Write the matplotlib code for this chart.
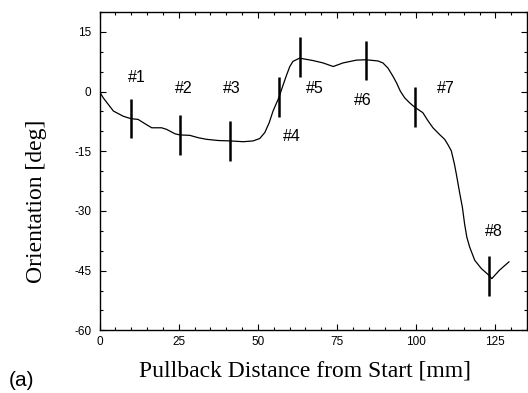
import matplotlib
matplotlib.use("Agg")
import matplotlib.pyplot as plt
from matplotlib.ticker import MultipleLocator

plt.rcParams["axes.unicode_minus"] = False

# orientation curve
dist = [0, 1.2, 4.4, 7.5, 9.9, 12.2, 14.4, 16.5, 19.6, 21.2, 23.8, 25.4, 28.5, 31.2,
        33.8, 37.5, 41.2, 45.4, 48.5, 50.6, 52.2, 53.6, 54.8, 56.6, 58.0, 59.1, 60.1,
        61.1, 63.2, 67.4, 70.6, 73.8, 76.9, 81.1, 84.1, 87.9, 89.5, 91.1, 92.7, 93.8,
        95.0, 96.4, 97.9, 99.5, 102.1, 103.7, 105.3, 107.4, 109.0, 110.0, 111.1, 112.1,
        112.7, 113.7, 114.6, 115.3, 116.0, 116.9, 118.5, 120.6, 122.6, 123.9, 126.3, 129.3]
orient = [0, -1.6, -4.9, -6.2, -6.8, -7.0, -8.1, -9.1, -9.1, -9.5, -10.6, -10.9, -11.0, -11.6,
          -12.0, -12.3, -12.4, -12.6, -12.4, -11.8, -10.3, -7.8, -4.9, -1.6, 1.7, 4.2, 6.3,
          7.6, 8.4, 7.8, 7.2, 6.3, 7.2, 7.9, 8.0, 7.7, 7.2, 5.9, 3.8, 2.2,
          0.1, -1.6, -2.8, -3.9, -5.3, -7.3, -9.1, -10.8, -12.0, -13.3, -14.9, -18.3,
          -20.8, -25.3, -29.1, -33.3, -36.6, -39.1, -42.4, -44.5, -45.9, -47.0, -44.9, -42.8]

# marked sites #1..#8
site_x = [9.9, 25.4, 41.2, 56.6, 63.2, 84.1, 99.5, 123.0]
site_y = [-6.75, -10.9, -12.4, -1.4, 8.6, 7.8, -3.9, -46.4]
site_err = 5
site_names = ["#1", "#2", "#3", "#4", "#5", "#6", "#7", "#8"]
name_x = [11.7, 26.7, 41.7, 60.6, 68.0, 83.2, 109.5, 124.5]
name_y = [3.6, 0.65, 0.65, -11.3, 0.65, -2.25, 0.65, -35.2]

fig = plt.figure(figsize=(5.28, 3.93), dpi=100)
ax = fig.add_axes([99.5 / 528, 1 - 330.3 / 393, (527 - 99.5) / 528, (330.3 - 12) / 393])

ax.plot(dist, orient, color="black", lw=0.9)
ax.errorbar(site_x, site_y, yerr=site_err, fmt="none", ecolor="black", elinewidth=1.8, capsize=0)
for nx, ny, nm in zip(name_x, name_y, site_names):
    ax.text(nx, ny, nm, ha="center", va="center", fontsize=11.5, family="Liberation Sans")

ax.set_xlim(0, 135)
ax.set_ylim(-60, 20)
ax.xaxis.set_major_locator(MultipleLocator(25))
ax.xaxis.set_minor_locator(MultipleLocator(5))
ax.yaxis.set_major_locator(MultipleLocator(15))
ax.yaxis.set_minor_locator(MultipleLocator(5))
ax.tick_params(which="both", direction="in", top=True, right=True, labelsize=8.5, width=0.8)
ax.tick_params(which="major", length=4)
ax.tick_params(which="minor", length=2)
ax.tick_params(axis="y", pad=6)
ax.tick_params(axis="x", pad=4)
for lab in ax.get_xticklabels() + ax.get_yticklabels():
    lab.set_family("Liberation Sans")
for sp in ax.spines.values():
    sp.set_linewidth(1.0)

fig.text(305 / 528, 1 - 377 / 393, "Pullback Distance from Start [mm]", ha="center",
         va="baseline", fontsize=17, family="Liberation Serif")
fig.text(37 / 528, 1 - 201 / 393, "Orientation [deg]", ha="center", va="center",
         rotation=90, fontsize=17, family="Liberation Serif")
fig.text(21 / 528, 1 - 381 / 393, "(a)", ha="center", va="center", fontsize=15,
         family="Liberation Sans")

fig.savefig("out.png", dpi=100)
